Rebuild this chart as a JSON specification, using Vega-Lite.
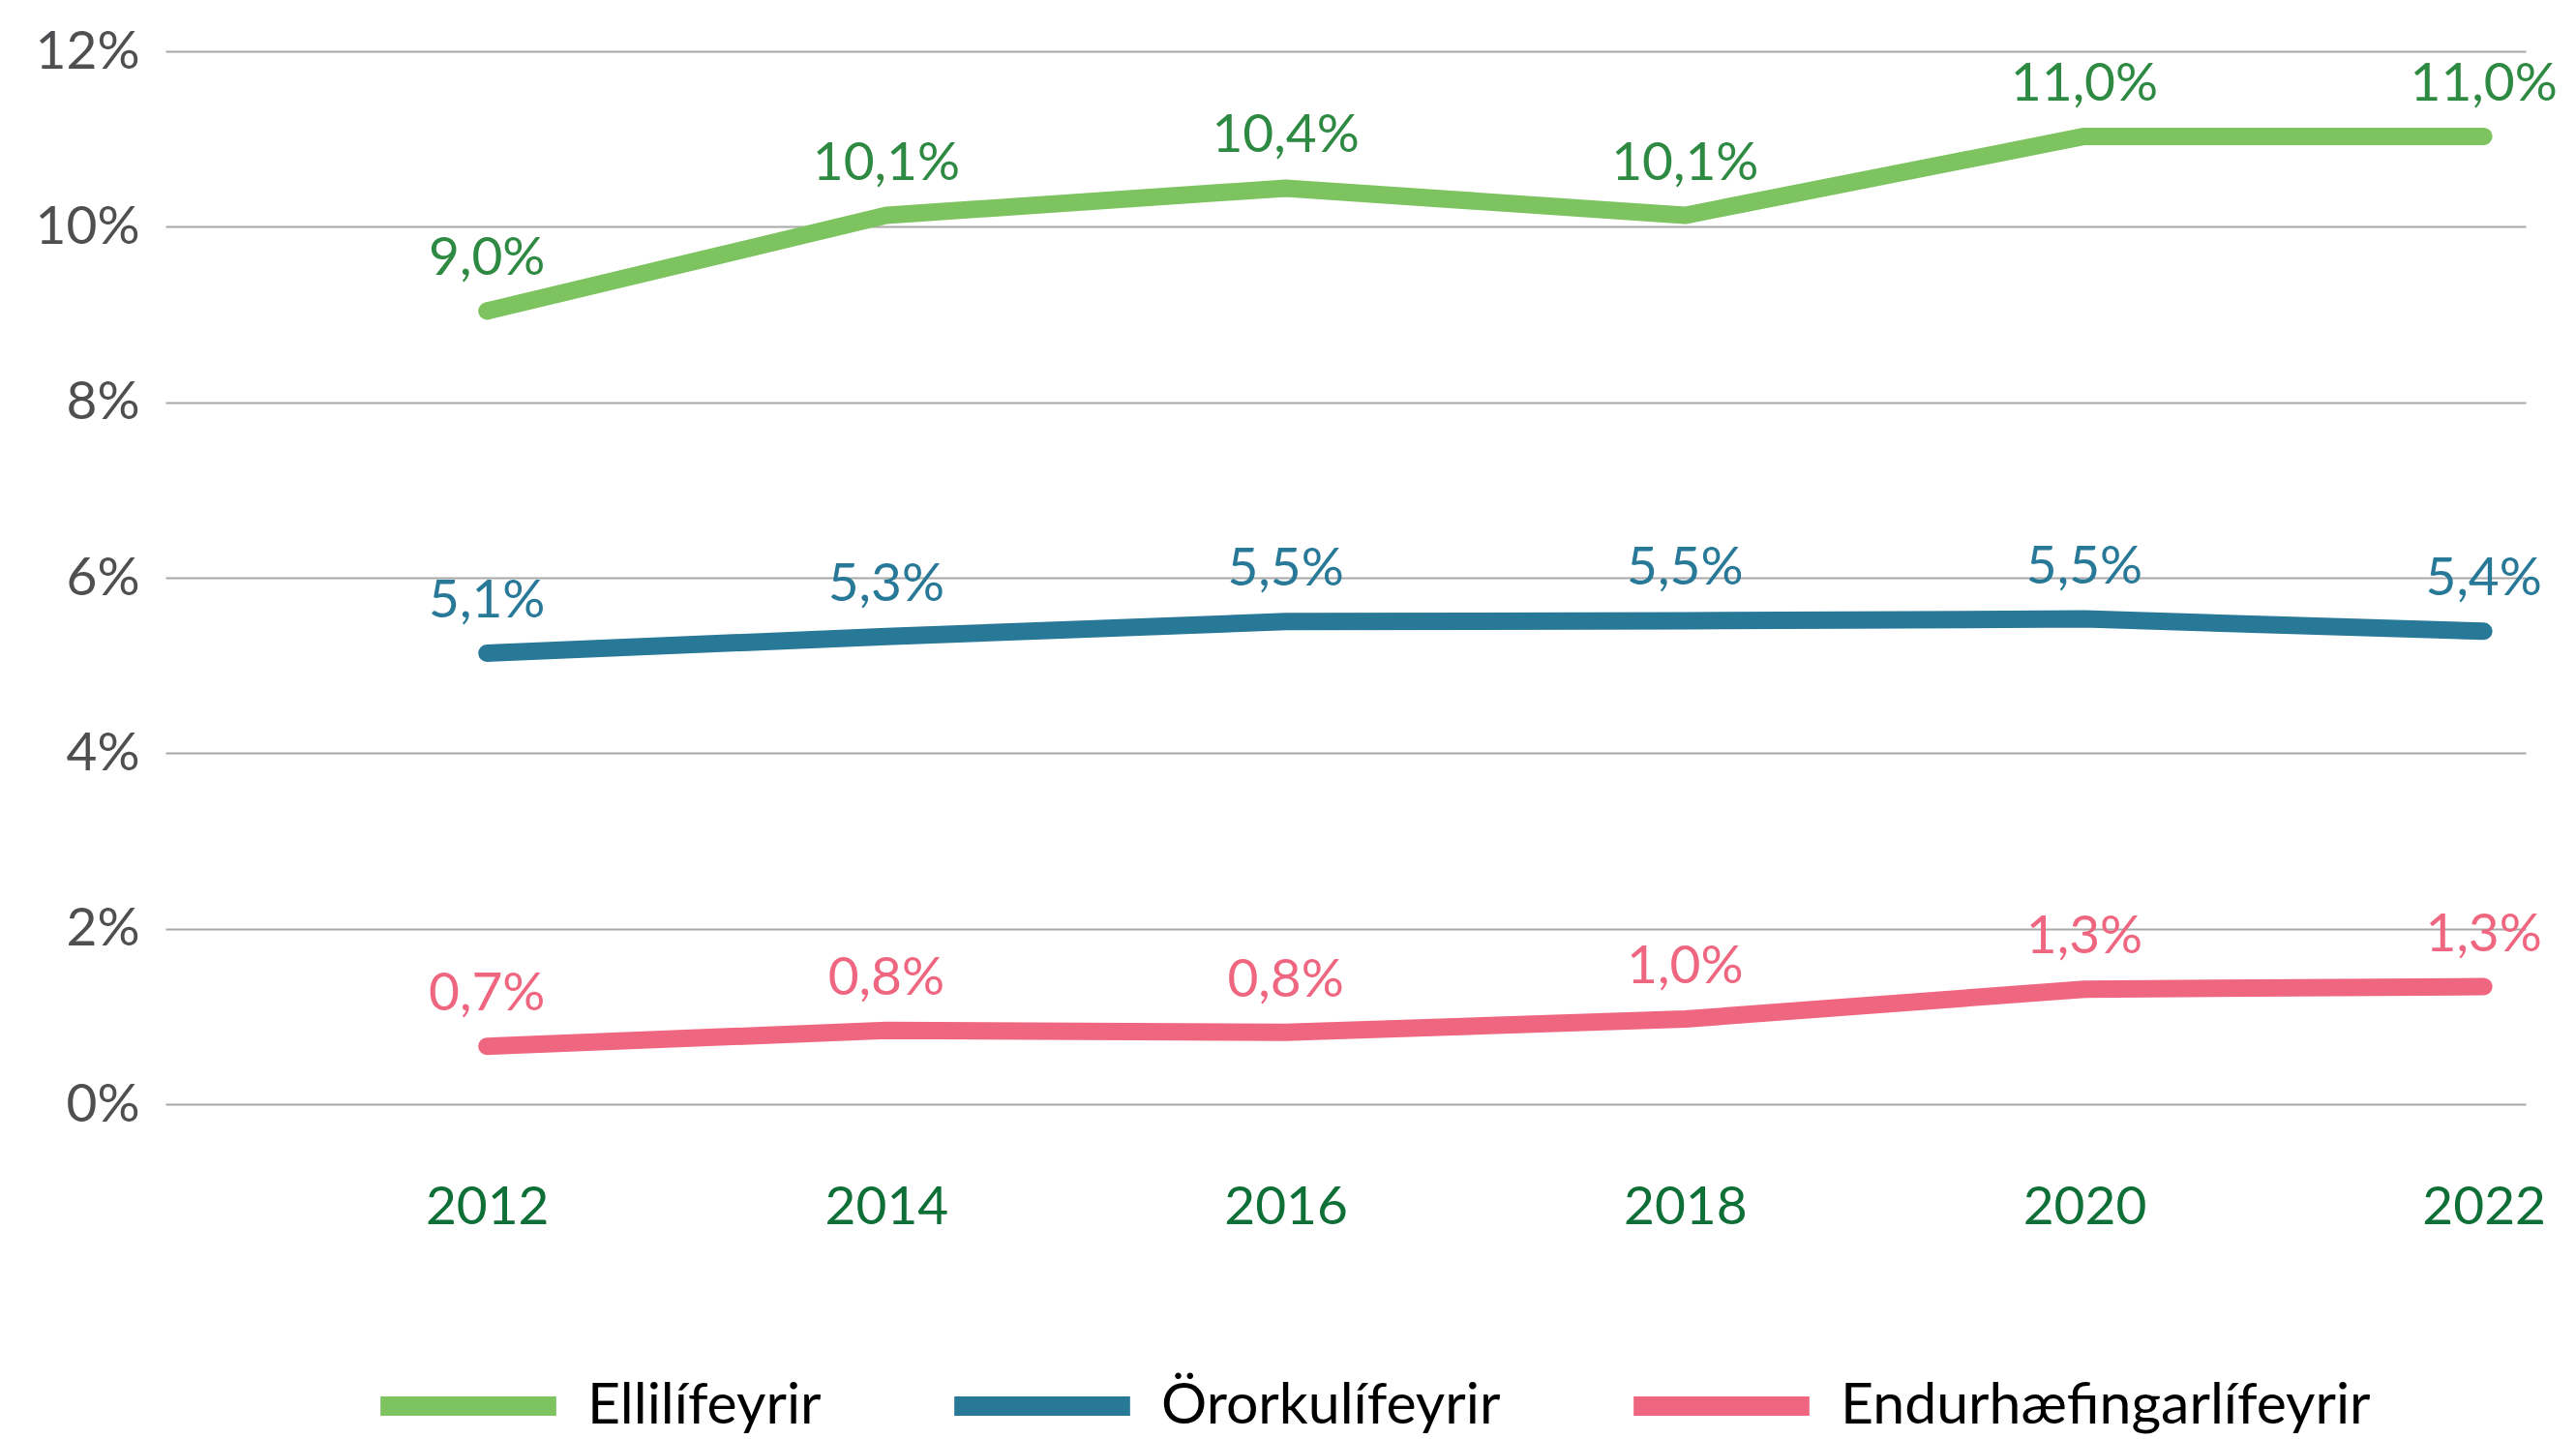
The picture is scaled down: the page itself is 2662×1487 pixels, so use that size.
{
  "$schema": "https://vega.github.io/schema/vega-lite/v6.json",
  "width": 2439,
  "height": 1088,
  "autosize": {"type": "none"},
  "padding": {"left": 171, "top": 53, "right": 52, "bottom": 346},
  "background": "white",
  "config": {
    "view": {"stroke": null},
    "locale": {"number": {"decimal": ",", "thousands": ".", "grouping": [3], "currency": ["", " kr."]}},
    "font": "Lato"
  },
  "data": {
    "values": [
      {"year": 2012, "series": "Ellilífeyrir", "value": 0.0904},
      {"year": 2014, "series": "Ellilífeyrir", "value": 0.1013},
      {"year": 2016, "series": "Ellilífeyrir", "value": 0.1044},
      {"year": 2018, "series": "Ellilífeyrir", "value": 0.1013},
      {"year": 2020, "series": "Ellilífeyrir", "value": 0.1103},
      {"year": 2022, "series": "Ellilífeyrir", "value": 0.1103},
      {"year": 2012, "series": "Örorkulífeyrir", "value": 0.0514},
      {"year": 2014, "series": "Örorkulífeyrir", "value": 0.0533},
      {"year": 2016, "series": "Örorkulífeyrir", "value": 0.0550},
      {"year": 2018, "series": "Örorkulífeyrir", "value": 0.0551},
      {"year": 2020, "series": "Örorkulífeyrir", "value": 0.0553},
      {"year": 2022, "series": "Örorkulífeyrir", "value": 0.0539},
      {"year": 2012, "series": "Endurhæfingarlífeyrir", "value": 0.0066},
      {"year": 2014, "series": "Endurhæfingarlífeyrir", "value": 0.0084},
      {"year": 2016, "series": "Endurhæfingarlífeyrir", "value": 0.0082},
      {"year": 2018, "series": "Endurhæfingarlífeyrir", "value": 0.0097},
      {"year": 2020, "series": "Endurhæfingarlífeyrir", "value": 0.0131},
      {"year": 2022, "series": "Endurhæfingarlífeyrir", "value": 0.0134}
    ]
  },
  "encoding": {
    "x": {
      "field": "year", "type": "quantitative",
      "scale": {"domain": [2010.39, 2022.21], "nice": false, "zero": false},
      "axis": {
        "title": null, "values": [2012, 2014, 2016, 2018, 2020, 2022], "format": "d",
        "domain": false, "ticks": false, "grid": false,
        "labelFontSize": 55, "labelColor": "#0e6f37", "labelPadding": 80,
        "labelFont": "Lato", "labelFontWeight": 400
      }
    },
    "y": {
      "field": "value", "type": "quantitative",
      "scale": {"domain": [0, 0.12], "nice": false},
      "axis": {
        "title": null, "values": [0, 0.02, 0.04, 0.06, 0.08, 0.1, 0.12], "format": ".0%",
        "domain": false, "ticks": false, "grid": true, "gridColor": "#a8a8a8", "gridWidth": 2,
        "labelFontSize": 55, "labelColor": "#4f4f52", "labelPadding": 27,
        "labelFont": "Lato", "labelFontWeight": 400
      }
    }
  },
  "layer": [
    {
      "mark": {"type": "line", "strokeWidth": 18, "strokeCap": "round", "strokeJoin": "round"},
      "encoding": {
        "color": {
          "field": "series", "type": "nominal",
          "scale": {"domain": ["Ellilífeyrir", "Örorkulífeyrir", "Endurhæfingarlífeyrir"], "range": ["#7dc35f", "#287898", "#ef6680"]},
          "legend": {
            "title": null, "orient": "none", "direction": "horizontal",
            "legendX": 212, "legendY": 1299,
            "symbolType": "stroke", "symbolStrokeWidth": 20, "symbolSize": 33000,
            "labelFontSize": 59, "labelFont": "Lato", "labelFontWeight": 400, "labelLimit": 2000,
            "labelOffset": 22, "columnPadding": 97,
            "encoding": {
              "symbols": {"update": {"strokeCap": {"value": "round"}, "strokeWidth": {"value": 20}}},
              "labels": {"update": {"fill": {"signal": "datum.value === 'Ellilífeyrir' ? '#0e6f37' : datum.value === 'Örorkulífeyrir' ? '#287898' : '#ef6680'"}}}
            }
          }
        }
      }
    },
    {
      "mark": {"type": "text", "dy": -54, "baseline": "middle", "align": "center", "fontSize": 55, "font": "Lato", "fontWeight": 400},
      "encoding": {
        "text": {"field": "value", "type": "quantitative", "format": ".1%"},
        "fill": {
          "field": "series", "type": "nominal",
          "scale": {"domain": ["Ellilífeyrir", "Örorkulífeyrir", "Endurhæfingarlífeyrir"], "range": ["#2e8a42", "#287898", "#ef6680"]},
          "legend": null
        }
      }
    }
  ]
}
